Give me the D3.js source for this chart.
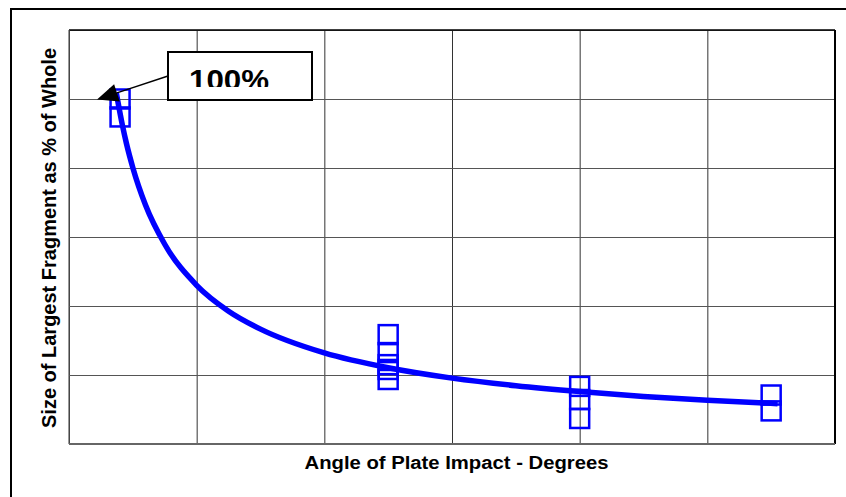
<!DOCTYPE html>
<html>
<head>
<meta charset="utf-8">
<script src="https://cdn.jsdelivr.net/npm/d3@7"></script>
<style>
  html, body { margin: 0; padding: 0; background: #fff; }
  svg { display: block; }
  text { font-family: "Liberation Sans", Arial, sans-serif; font-weight: bold; }
</style>
</head>
<body>
<script>
// ---- data ----
const angles = [4, 4, 25, 25, 25, 25, 25, 40, 40, 40, 55, 55];
const fragmentPct = [100, 94.8, 31.7, 26.5, 23.0, 21.6, 18.7, 16.7, 12.9, 7.4, 14.2, 9.6];
const trendAngles = [3.7, 4.2, 4.5, 5, 6, 7.5, 10, 12.5, 15, 20, 25, 30, 35, 40, 45, 50, 55.5];
const trendPct = [101.9, 92.1, 87.1, 80.1, 69.2, 57.9, 46.0, 38.5, 33.3, 26.4, 22.1, 19.1, 16.9, 15.2, 13.8, 12.7, 11.7];
const xTicks = [0, 10, 20, 30, 40, 50, 60];
const yTicks = [0, 20, 40, 60, 80, 100, 120];
const calloutText = "100%";
const xTitle = "Angle of Plate Impact - Degrees";
const yTitle = "Size of Largest Fragment as % of Whole";

const W = 846, H = 497;
const plot = { left: 69, right: 835, top: 30, bottom: 444 };

const svg = d3.select("body").append("svg").attr("width", W).attr("height", H);

// outer chart frame
svg.append("rect").attr("x", 11).attr("y", 9).attr("width", W).attr("height", H)
  .attr("fill", "none").attr("stroke", "#000").attr("stroke-width", 2);

const x = d3.scaleLinear().domain([0, 60]).range([plot.left, plot.right]);
const y = d3.scaleLinear().domain([0, 120]).range([plot.bottom, plot.top]);

// gridlines via axes
const gx = svg.append("g").attr("transform", `translate(0,${plot.bottom})`)
  .call(d3.axisBottom(x).tickValues(xTicks).tickSize(-(plot.bottom - plot.top)).tickFormat(""));
gx.select(".domain").remove();
gx.selectAll(".tick line").attr("stroke", "#333").attr("stroke-width", 1);

const gy = svg.append("g").attr("transform", `translate(${plot.left},0)`)
  .call(d3.axisLeft(y).tickValues(yTicks).tickSize(-(plot.right - plot.left)).tickFormat(""));
gy.select(".domain").remove();
gy.selectAll(".tick line").attr("stroke", "#555").attr("stroke-width", 1.2);

// plot frame
svg.append("line").attr("x1", plot.left).attr("x2", plot.right).attr("y1", plot.top).attr("y2", plot.top)
  .attr("stroke", "#000").attr("stroke-width", 1.5);
svg.append("line").attr("x1", plot.right).attr("x2", plot.right).attr("y1", plot.top).attr("y2", plot.bottom)
  .attr("stroke", "#000").attr("stroke-width", 2);
svg.append("line").attr("x1", plot.left).attr("x2", plot.left).attr("y1", plot.top).attr("y2", plot.bottom)
  .attr("stroke", "#555").attr("stroke-width", 1.2);
svg.append("line").attr("x1", plot.left).attr("x2", plot.right).attr("y1", plot.bottom).attr("y2", plot.bottom)
  .attr("stroke", "#666").attr("stroke-width", 2);

// markers
const ms = 19;
svg.append("g").selectAll("rect").data(angles.map((a, i) => [a, fragmentPct[i]])).join("rect")
  .attr("x", d => x(d[0]) - ms / 2).attr("y", d => y(d[1]) - ms / 2)
  .attr("width", ms).attr("height", ms)
  .attr("fill", "none").attr("stroke", "#0000ff").attr("stroke-width", 2.5);

// trend curve
const line = d3.line().x(d => x(d[0])).y(d => y(d[1])).curve(d3.curveMonotoneX);
svg.append("path").datum(trendAngles.map((a, i) => [a, trendPct[i]]))
  .attr("d", line).attr("fill", "none").attr("stroke", "#0000ff").attr("stroke-width", 5.5);

// callout arrow (line + filled head)
const start = [168, 76], tip = [97, 99.5];
const dx = tip[0] - start[0], dy = tip[1] - start[1], len = Math.hypot(dx, dy);
const ux = dx / len, uy = dy / len, hl = 21, hw = 9;
const bx = tip[0] - ux * hl, by = tip[1] - uy * hl;
svg.append("line").attr("x1", start[0]).attr("y1", start[1]).attr("x2", bx).attr("y2", by)
  .attr("stroke", "#000").attr("stroke-width", 1.5);
svg.append("path")
  .attr("d", `M${tip[0]},${tip[1]} L${bx - uy * hw},${by + ux * hw} L${bx + uy * hw},${by - ux * hw} Z`)
  .attr("fill", "#000");

// callout box
svg.append("rect").attr("x", 168).attr("y", 52).attr("width", 144).attr("height", 48)
  .attr("fill", "#fff").attr("stroke", "#000").attr("stroke-width", 2);
const defs = svg.append("defs");
defs.append("clipPath").attr("id", "clipTxt").append("rect")
  .attr("x", 169).attr("y", 53).attr("width", 142).attr("height", 34);
svg.append("text").attr("x", 189).attr("y", 90).attr("clip-path", "url(#clipTxt)")
  .attr("font-size", 30).attr("textLength", 80).attr("lengthAdjust", "spacingAndGlyphs")
  .attr("fill", "#000").text(calloutText);

// axis titles
svg.append("text").attr("x", 456.5).attr("y", 469).attr("text-anchor", "middle")
  .attr("font-size", 18).attr("textLength", 304).attr("lengthAdjust", "spacingAndGlyphs")
  .text(xTitle);
svg.append("text").attr("transform", "translate(55.5,238) rotate(-90)").attr("text-anchor", "middle")
  .attr("font-size", 19.5).attr("textLength", 380).attr("lengthAdjust", "spacingAndGlyphs")
  .text(yTitle);
</script>
</body>
</html>
